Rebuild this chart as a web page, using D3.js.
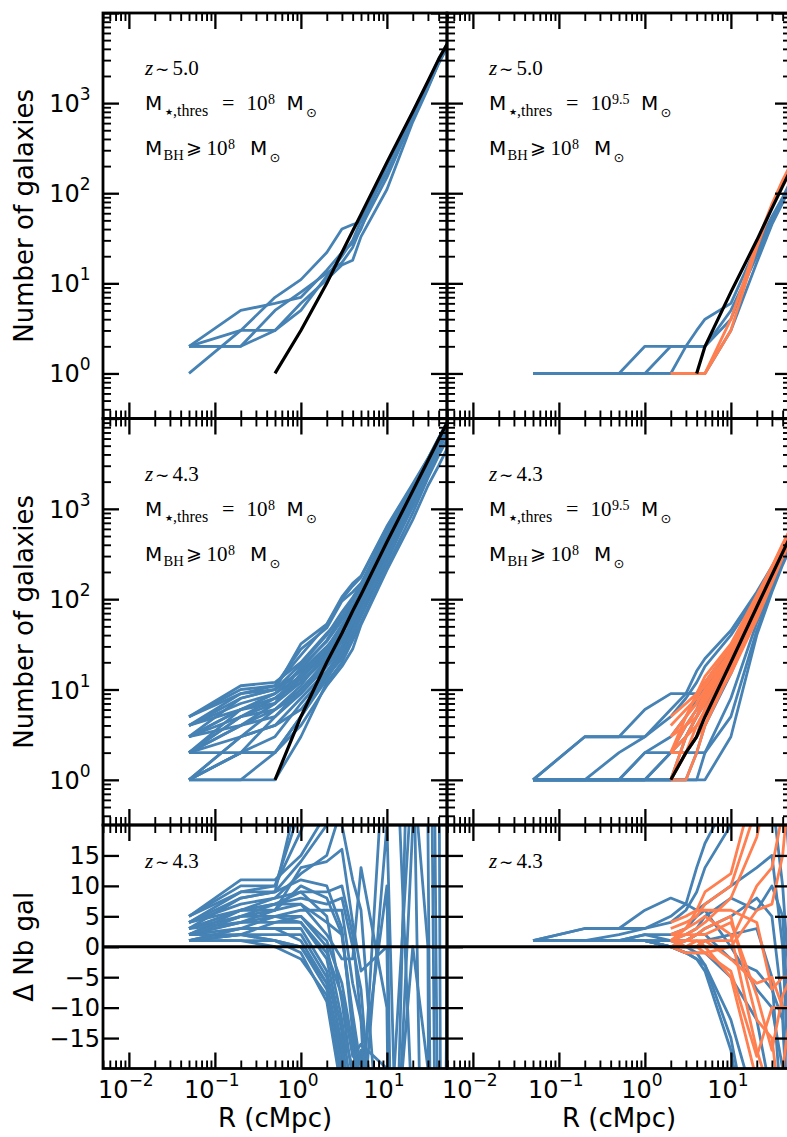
<!DOCTYPE html>
<html><head><meta charset="utf-8">
<script src="https://cdn.jsdelivr.net/npm/d3@7"></script>
<style>body{margin:0;background:#fff} svg{display:block}</style>
</head><body>
<svg id="chart" width="787" height="1137"></svg>
<script>
// ---------------- DATA ----------------
const R = [0.05, 0.2, 0.5, 1, 2, 3, 4, 5, 10, 20, 30, 40, 50];

// z~5.0, M*,thres = 1e8
const exp_z5_lo = [0, 0, 1, 3, 10, 22, 38, 58, 220, 800, 1750, 3080, 4500];
const sim_z5_lo = [
  [1, 3, 7, 11, 22, 40, 45, 48, 200, 760, 1650, 2950, 4350],
  [2, 5, 6, 7, 14, 22, 28, 40, 210, 780, 1700, 3050, 4500],
  [2, 2, 3, 6, 11, 16, 18, 33, 110, 620, 1450, 2750, 4150],
  [2, 3, 3, 5, 12, 20, 30, 50, 170, 700, 1550, 2850, 4250],
  [2, 2, 5, 8, 13, 17, 25, 42, 150, 680, 1500, 2800, 4200]
];

// z~5.0, M*,thres = 1e9.5
const exp_z5_hi = [0, 0, 0, 0, 0, 0, 1, 2, 8, 30, 68, 120, 185];
const simB_z5_hi = [
  [1, 1, 1, 2, 2, 2, 3, 4, 6, 26, 55, 90, 140],
  [1, 1, 1, 1, 2, 2, 2, 2, 4, 22, 52, 86, 135],
  [1, 1, 1, 1, 1, 2, 2, 2, 5, 20, 48, 82, 130],
  [1, 1, 1, 1, 1, 1, 1, 1, 3, 17, 45, 78, 125]
];
const simO_z5_hi = [
  [null, null, null, null, 1, 1, 1, 1, 3, 25, 72, 135, 205],
  [null, null, null, null, 1, 1, 1, 1, 4, 28, 76, 140, 212]
];

// z~4.3, M*,thres = 1e8
const exp_z43_lo = [0, 0, 1, 5, 20, 42, 74, 112, 430, 1580, 3400, 5900, 8900];
const sim_z43_lo = [
  [5, 11, 12, 20, 42, 62, 85, 118, 380, 1500, 3300, 5600, 8400],
  [4, 9, 11, 28, 48, 95, 120, 150, 560, 1700, 3500, 5800, 8800],
  [3, 8, 10, 16, 30, 45, 60, 80, 450, 1450, 2900, 5200, 7900],
  [3, 6, 9, 14, 25, 33, 52, 95, 300, 1350, 3150, 5500, 8200],
  [2, 5, 8, 12, 22, 40, 72, 125, 420, 1250, 2800, 4900, 7600],
  [2, 4, 7, 15, 28, 44, 62, 88, 360, 1600, 3450, 5950, 8600],
  [1, 3, 6, 10, 20, 30, 48, 82, 470, 1750, 3550, 5850, 8500],
  [1, 2, 5, 9, 18, 28, 42, 64, 260, 1100, 2600, 4700, 7200],
  [4, 7, 9, 17, 35, 65, 95, 135, 500, 1550, 3200, 5400, 8100],
  [2, 3, 4, 8, 16, 26, 45, 70, 330, 1650, 3420, 5700, 8900],
  [1, 1, 1, 3, 12, 20, 35, 55, 230, 900, 2200, 3900, 5800],
  [2, 2, 2, 5, 14, 24, 44, 80, 400, 1400, 3100, 5300, 8000],
  [3, 5, 6, 11, 26, 48, 68, 100, 340, 1480, 3000, 5100, 7700],
  [1, 2, 3, 7, 15, 29, 54, 90, 440, 1320, 2950, 5600, 8300],
  [5, 10, 11, 24, 52, 100, 140, 175, 620, 1800, 3600, 6100, 9100],
  [2, 6, 8, 13, 27, 50, 74, 105, 370, 1500, 3250, 5650, 8450],
  [3, 4, 5, 10, 21, 36, 58, 85, 310, 1200, 2700, 4800, 7300],
  [1, 3, 4, 6, 14, 22, 38, 66, 380, 1580, 3380, 5500, 8150],
  [4, 8, 10, 19, 40, 72, 104, 145, 520, 1620, 3300, 5650, 8550],
  [2, 4, 6, 9, 19, 34, 56, 96, 410, 1420, 3200, 5750, 8700],
  [1, 2, 2, 4, 11, 18, 28, 52, 210, 760, 1800, 3000, 4600],
  [3, 6, 7, 12, 24, 44, 63, 92, 350, 1450, 3180, 5350, 7950],
  [2, 5, 7, 18, 34, 58, 78, 108, 430, 1330, 2880, 5250, 8250],
  [1, 1, 2, 5, 13, 25, 45, 74, 290, 1050, 2450, 4400, 6800],
  [4, 6, 8, 14, 29, 52, 76, 100, 390, 1610, 3400, 5500, 8050],
  [5, 9, 10, 32, 53, 106, 150, 180, 640, 1900, 3600, 6000, 9000]
];

// z~4.3, M*,thres = 1e9.5
const exp_z43_hi = [0, 0, 0, 0, 1, 2, 3, 5, 20, 82, 185, 330, 510];
const simB_z43_hi = [
  [1, 3, 3, 6, 9, 9, 16, 22, 45, 120, 230, 360, 520],
  [1, 3, 3, 3, 5, 8, 12, 18, 40, 110, 210, 340, 500],
  [1, 1, 2, 3, 6, 9, 9, 12, 30, 95, 200, 330, 480],
  [1, 1, 1, 2, 2, 3, 5, 8, 25, 90, 190, 320, 470],
  [1, 1, 1, 1, 2, 2, 2, 4, 15, 70, 160, 290, 430],
  [1, 1, 1, 1, 1, 1, 2, 2, 8, 55, 140, 260, 400],
  [1, 1, 1, 1, 1, 2, 3, 6, 22, 85, 180, 300, 460],
  [1, 1, 1, 1, 2, 4, 6, 10, 28, 88, 195, 335, 490],
  [1, 1, 1, 2, 3, 5, 8, 11, 20, 75, 175, 310, 455],
  [1, 1, 1, 1, 1, 1, 1, 2, 5, 45, 130, 250, 390],
  [1, 1, 1, 1, 1, 1, 1, 1, 3, 40, 120, 240, 380],
  [1, 1, 1, 1, 1, 3, 5, 7, 18, 78, 178, 318, 470]
];
const simO_z43_hi = [
  [null, null, null, null, 1, 3, 5, 8, 25, 70, 170, 300, 470],
  [null, null, null, null, 2, 4, 6, 9, 28, 100, 215, 380, 590],
  [null, null, null, null, 3, 5, 7, 10, 22, 65, 160, 310, 500],
  [null, null, null, null, 1, 2, 4, 6, 18, 76, 180, 320, 500],
  [null, null, null, null, 4, 6, 8, 12, 30, 105, 225, 400, 610],
  [null, null, null, null, 2, 3, 4, 5, 15, 60, 150, 290, 460],
  [null, null, null, null, 1, 1, 2, 4, 20, 88, 192, 345, 540],
  [null, null, null, null, 3, 4, 5, 7, 24, 74, 168, 322, 505],
  [null, null, null, null, 2, 5, 9, 14, 32, 110, 230, 410, 620],
  [null, null, null, null, 1, 2, 3, 4, 16, 64, 175, 320, 500],
  [null, null, null, null, 2, 2, 3, 6, 21, 92, 198, 352, 545],
  [null, null, null, null, 5, 7, 9, 11, 26, 86, 178, 325, 505]
];

const xMajorTicks = [0.01, 0.1, 1, 10];
const xTickExp = ["\u22122", "\u22121", "0", "1"];
const yLogTicks = [1, 10, 100, 1000];
const yLogExp = ["0", "1", "2", "3"];
const yLinTicks = [-15, -10, -5, 0, 5, 10, 15];
const yLinLabels = ["\u221215", "\u221210", "\u22125", "0", "5", "10", "15"];

// ---------------- LAYOUT ----------------
const BLUE = "#4682b4", ORANGE = "#ff7f50";
const SANS = "'DejaVu Sans', sans-serif";
const SERIF = "'Liberation Serif', 'DejaVu Serif', serif";
const svg = d3.select("#chart");
const colX = [[103, 447], [447, 791]];
const rowY = [[13, 418.5], [418.5, 825], [825, 1068.5]];
const xDomain = [0.005, 50];
const yLogDomain = [Math.sqrt(0.1), 1e4];
const yLinDomain = [-20, 20];
const LW = 2.8, LWK = 3.2;

function near(a, b) { return Math.abs(a - b) <= 1e-9 * Math.max(Math.abs(a), Math.abs(b)); }
function logMinor(lo, hi) {
  const out = [];
  for (let k = -4; k <= 4; k++) for (let m = 2; m <= 9; m++) {
    const v = +(m * Math.pow(10, k)).toPrecision(6);
    if ((v > lo || near(v, lo)) && (v < hi || near(v, hi))) out.push(v);
  }
  return out;
}

function makePanel(ci, ri) {
  const [x0, x1] = colX[ci], [y0, y1] = rowY[ri];
  const x = d3.scaleLog().domain(xDomain).range([x0, x1]);
  const y = ri < 2 ? d3.scaleLog().domain(yLogDomain).range([y1, y0])
                   : d3.scaleLinear().domain(yLinDomain).range([y1, y0]);
  const id = "clip" + ci + ri;
  svg.append("clipPath").attr("id", id).append("rect")
    .attr("x", x0).attr("y", y0).attr("width", x1 - x0).attr("height", y1 - y0);
  const plot = svg.append("g").attr("clip-path", `url(#${id})`);
  return { x, y, plot, x0, x1, y0, y1, ci, ri };
}

function drawSeries(p, series, color, width) {
  const pts = series.map((v, i) => ({ r: R[i], v }));
  const isLog = p.ri < 2;
  const line = d3.line()
    .defined(d => d.v !== null && (!isLog || d.v > 0))
    .x(d => p.x(d.r)).y(d => p.y(d.v));
  p.plot.append("path").datum(pts).attr("d", line)
    .attr("fill", "none").attr("stroke", color).attr("stroke-width", width)
    .attr("stroke-linejoin", "round").attr("stroke-linecap", "butt");
}
function delta(series, expected) {
  return series.map((v, i) => v === null ? null : v - expected[i]);
}

function styleAxis(g, w) {
  g.select(".domain").remove();
  g.selectAll(".tick line").attr("stroke", "#000").attr("stroke-width", w);
  g.selectAll(".tick text").remove();
}

function drawFrame(p) {
  const g = svg.append("g");
  const xMin = logMinor(xDomain[0], xDomain[1]);
  const isLog = p.ri < 2;
  const yMaj = isLog ? [1, 10, 100, 1000, 10000] : yLinTicks;
  const yMin = isLog ? logMinor(yLogDomain[0], yLogDomain[1]) : [];
  const addAxes = (scale, vals, size, w, horizontal) => {
    if (!vals.length) return;
    if (horizontal) {
      g.append("g").attr("transform", `translate(0,${p.y1})`)
        .call(d3.axisBottom(scale).tickValues(vals).tickSize(-size).tickFormat(""))
        .call(a => styleAxis(a, w));
      g.append("g").attr("transform", `translate(0,${p.y0})`)
        .call(d3.axisTop(scale).tickValues(vals).tickSize(-size).tickFormat(""))
        .call(a => styleAxis(a, w));
    } else {
      g.append("g").attr("transform", `translate(${p.x0},0)`)
        .call(d3.axisLeft(scale).tickValues(vals).tickSize(-size).tickFormat(""))
        .call(a => styleAxis(a, w));
      g.append("g").attr("transform", `translate(${p.x1},0)`)
        .call(d3.axisRight(scale).tickValues(vals).tickSize(-size).tickFormat(""))
        .call(a => styleAxis(a, w));
    }
  };
  addAxes(p.x, xMajorTicks, 16, 2.3, true);
  addAxes(p.x, xMin, 8, 1.9, true);
  addAxes(p.y, yMaj, 16, 2.3, false);
  addAxes(p.y, yMin, 8, 1.9, false);
  g.append("rect").attr("x", p.x0).attr("y", p.y0)
    .attr("width", p.x1 - p.x0).attr("height", p.y1 - p.y0)
    .attr("fill", "none").attr("stroke", "#000").attr("stroke-width", 2.8);
}

function yLogLabels(p) {
  yLogTicks.forEach((v, i) => {
    const t = svg.append("text").attr("x", 90.5).attr("y", p.y(v) + 9)
      .attr("text-anchor", "end").attr("font-family", SANS).attr("fill", "#000");
    t.append("tspan").attr("font-size", 24).text("10");
    t.append("tspan").attr("font-size", 17).attr("dy", -12).text(yLogExp[i]);
  });
}
function yLinLabelsDraw(p) {
  yLinTicks.forEach((v, i) => {
    svg.append("text").attr("x", 100).attr("y", p.y(v) + 8.5)
      .attr("text-anchor", "end").attr("font-family", SANS).attr("font-size", 24)
      .attr("fill", "#000").text(yLinLabels[i]);
  });
}
function xLabels(p) {
  xMajorTicks.forEach((v, i) => {
    const t = svg.append("text").attr("x", p.x(v) - 3).attr("y", 1098)
      .attr("text-anchor", "middle").attr("font-family", SANS).attr("fill", "#000");
    t.append("tspan").attr("font-size", 24).text("10");
    t.append("tspan").attr("font-size", 17).attr("dy", -12).text(xTickExp[i]);
  });
  svg.append("text").attr("x", (p.x0 + p.x1) / 2).attr("y", 1127)
    .attr("text-anchor", "middle").attr("font-family", SANS).attr("font-size", 26)
    .text("R (cMpc)");
}
function yTitle(p, txt) {
  svg.append("text")
    .attr("transform", `translate(33,${(p.y0 + p.y1) / 2}) rotate(-90)`)
    .attr("text-anchor", "middle").attr("font-family", SANS).attr("font-size", 26)
    .text(txt);
}

function piece(x, y, txt, fam, size, italic) {
  const t = svg.append("text").attr("x", x).attr("y", y).attr("font-family", fam)
    .attr("font-size", size).attr("fill", "#000").text(txt);
  if (italic) t.attr("font-style", "italic");
  return t;
}
function zLine(x0, b, zTxt) {
  piece(x0, b, "z", SERIF, 21, true);
  piece(x0 + 10, b, "\u223C", "'DejaVu Sans'", 17);
  piece(x0 + 27.5, b, zTxt, SERIF, 21);
}
function annotations(p, zTxt, thrExp) {
  const x0 = p.x0 + 42;
  const b1 = p.y0 + 62, b2 = p.y0 + 97, b3 = p.y0 + 142;
  zLine(x0, b1, zTxt);
  // line 2
  piece(x0, b2, "M", SANS, 20);
  piece(x0 + 20, b2 + 5, "\u2605", "'DejaVu Sans'", 9);
  piece(x0 + 28, b2 + 6, ",thres", SERIF, 16);
  piece(x0 + 77, b2, "=", SERIF, 22);
  piece(x0 + 101.5, b2, "10", SERIF, 21);
  piece(x0 + 123, b2 - 6, thrExp, SERIF, 14);
  const eW = thrExp.length > 1 ? 17.5 : 7;
  piece(x0 + 123 + eW + 11.5, b2, "M", SANS, 20);
  piece(x0 + 123 + eW + 31, b2 + 7, "\u2299", "'DejaVu Sans'", 13);
  // line 3
  piece(x0, b3, "M", SANS, 20);
  piece(x0 + 18.5, b3 + 5, "BH", SERIF, 14.5);
  piece(x0 + 41, b3 - 1, "\u2A7E", "'DejaVu Sans'", 19);
  piece(x0 + 61.5, b3, "10", SERIF, 21);
  piece(x0 + 83, b3 - 6, "8", SERIF, 14);
  piece(x0 + 105, b3, "M", SANS, 20);
  piece(x0 + 124.5, b3 + 7, "\u2299", "'DejaVu Sans'", 13);
}

// ---------------- PANELS ----------------
const pTL = makePanel(0, 0), pTR = makePanel(1, 0);
const pML = makePanel(0, 1), pMR = makePanel(1, 1);
const pBL = makePanel(0, 2), pBR = makePanel(1, 2);

sim_z5_lo.forEach(s => drawSeries(pTL, s, BLUE, LW));
drawSeries(pTL, exp_z5_lo, "#000", LWK);

simB_z5_hi.forEach(s => drawSeries(pTR, s, BLUE, LW));
simO_z5_hi.forEach(s => drawSeries(pTR, s, ORANGE, LW));
drawSeries(pTR, exp_z5_hi, "#000", LWK);

sim_z43_lo.forEach(s => drawSeries(pML, s, BLUE, LW));
drawSeries(pML, exp_z43_lo, "#000", LWK);

simB_z43_hi.forEach(s => drawSeries(pMR, s, BLUE, LW));
simO_z43_hi.forEach(s => drawSeries(pMR, s, ORANGE, LW));
drawSeries(pMR, exp_z43_hi, "#000", LWK);

sim_z43_lo.forEach(s => drawSeries(pBL, delta(s, exp_z43_lo), BLUE, LW));
simB_z43_hi.forEach(s => drawSeries(pBR, delta(s, exp_z43_hi), BLUE, LW));
simO_z43_hi.forEach(s => drawSeries(pBR, delta(s, exp_z43_hi), ORANGE, LW));

[pBL, pBR].forEach(p => {
  p.plot.append("line").attr("x1", p.x0).attr("x2", p.x1)
    .attr("y1", p.y(0)).attr("y2", p.y(0))
    .attr("stroke", "#000").attr("stroke-width", 2.8);
});

[pTL, pTR, pML, pMR, pBL, pBR].forEach(drawFrame);

yLogLabels(pTL); yLogLabels(pML); yLinLabelsDraw(pBL);
xLabels(pBL); xLabels(pBR);
yTitle(pTL, "Number of galaxies"); yTitle(pML, "Number of galaxies");
yTitle(pBL, "\u0394 Nb gal");

annotations(pTL, "5.0", "8");
annotations(pTR, "5.0", "9.5");
annotations(pML, "4.3", "8");
annotations(pMR, "4.3", "9.5");
zLine(pBL.x0 + 42, pBL.y0 + 43, "4.3");
zLine(pBR.x0 + 42, pBR.y0 + 43, "4.3");
</script>
</body></html>
